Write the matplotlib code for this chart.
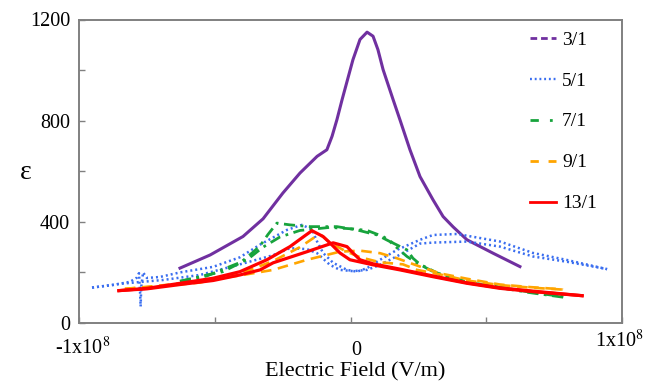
import matplotlib
matplotlib.use("Agg")
import matplotlib.pyplot as plt
from matplotlib.lines import Line2D
import numpy as np

plt.rcParams['font.family'] = ['Liberation Serif', 'DejaVu Serif']
plt.rcParams['mathtext.fontset'] = 'stix'

# Electric field values in units of 1e7 V/m, permittivity values (dimensionless)
e_31 = [-6.28, -5.17, -3.96, -3.22, -2.49, -1.86, -1.23, -0.87, -0.68, -0.50, -0.31, 0.09,
        0.35, 0.61, 0.83, 1.01, 1.20, 1.57, 1.82, 2.19, 2.56, 3.04, 3.41, 3.78, 4.29, 5.25, 6.24]
eps_31 = [217, 269, 342, 412, 514, 593, 659, 685, 738, 804, 883, 1041,
          1121, 1150, 1134, 1081, 1002, 883, 804, 685, 579, 487, 421, 380, 329, 276, 223]

e_51a = [-9.52, -8.75, -8.12, -7.86, -7.79, -7.75, -7.73, -7.71, -7.64, -7.50, -7.02, -6.28,
         -5.06, -4.07, -3.33, -2.34, -1.79, -1.42, -1.23, -1.01, -0.64, -0.13, 0.24, 0.61,
         1.09, 1.71, 2.56, 3.04, 3.92, 5.51, 6.72, 7.98, 9.45]
eps_51a = [140, 150, 163, 180, 197, 120, 65, 140, 200, 178, 182, 200,
           222, 260, 310, 368, 388, 370, 322, 277, 238, 210, 203, 217,
           250, 289, 329, 348, 352, 322, 277, 249, 213]
e_51b = [-9.52, -8.49, -6.91, -5.54, -4.07, -2.85, -2.23, -1.60, -1.23, -0.76, -0.39, 0.09,
         0.61, 1.09, 1.82, 2.56, 3.04, 4.29, 5.51, 6.72, 7.98, 9.45]
eps_51b = [140, 155, 170, 190, 232, 268, 296, 292, 276, 230, 210, 205,
           210, 230, 270, 314, 318, 322, 302, 263, 242, 213]

e_71a = [-6.28, -5.29, -4.70, -4.07, -3.59, -3.33, -3.04, -2.71, -2.23, -1.49, -0.50, 0.24,
         0.98, 1.45, 2.08, 2.45, 3.19, 4.29, 5.03, 6.61, 7.97]
eps_71a = [165, 190, 203, 237, 280, 305, 350, 395, 388, 381, 381, 368,
           348, 322, 263, 237, 195, 160, 150, 122, 102]
e_71b = [-6.28, -5.29, -4.33, -3.81, -3.22, -2.60, -1.86, -0.76, 0.09, 0.61, 1.20, 1.57,
         2.08, 2.30, 2.56, 3.19, 4.29, 5.03, 6.61, 7.97]
eps_71b = [165, 186, 228, 250, 300, 340, 366, 378, 372, 366, 342, 316,
           289, 256, 232, 198, 162, 148, 120, 100]

e_91a = [-8.31, -7.02, -5.54, -4.07, -2.85, -1.60, -0.39, 0.35, 1.09, 1.71, 2.56, 3.30,
         4.29, 5.51, 6.61, 7.83]
eps_91a = [135, 148, 165, 188, 210, 250, 282, 286, 276, 256, 223, 196,
           175, 152, 142, 133]
e_91b = [-8.31, -7.02, -5.54, -4.07, -2.85, -1.86, -1.31, -1.05, -0.76, -0.20, 0.35, 1.09,
         1.93, 2.45, 3.30, 4.29, 5.51, 6.61, 7.83]
eps_91b = [135, 145, 160, 195, 245, 300, 340, 345, 318, 285, 260, 240,
           232, 210, 192, 168, 150, 140, 132]

e_131a = [-8.53, -7.50, -6.28, -5.06, -4.07, -3.08, -2.23, -1.68, -1.42, -1.01, -0.76, -0.39,
          -0.02, 0.83, 1.82, 3.04, 4.29, 5.51, 6.72, 8.53]
eps_131a = [128, 137, 157, 177, 203, 250, 302, 345, 365, 342, 317, 277,
            250, 230, 210, 183, 157, 137, 124, 108]
e_131b = [-8.53, -7.50, -6.28, -5.06, -4.07, -3.33, -2.85, -1.60, -0.64, -0.13, 0.09, 0.35,
          0.83, 1.82, 3.04, 4.29, 5.51, 6.72, 8.53]
eps_131b = [128, 135, 152, 168, 190, 210, 238, 282, 317, 302, 277, 250,
            234, 213, 186, 159, 139, 126, 108]

labels = ['3/1', '5/1', '7/1', '9/1', '13/1']
colors = ['#7030a0', '#3a6ef0', '#17a33c', '#ffa500', '#ff0000']
unit = 1e7

fig = plt.figure(figsize=(6.54, 3.84), dpi=100)
ax = fig.add_axes([79/654, 1-323/384, 543/654, 303.5/384])

def E(v):
    return np.array(v) * unit

ax.plot(E(e_31), eps_31, color=colors[0], lw=2.2, solid_joinstyle='round')
for ee, yy in [(e_51a, eps_51a), (e_51b, eps_51b)]:
    ax.plot(E(ee), yy, color=colors[1], lw=1.8, linestyle=(0, (0.8, 1.2)))
for ee, yy in [(e_71a, eps_71a), (e_71b, eps_71b)]:
    ax.plot(E(ee), yy, color=colors[2], lw=2.0, linestyle=(0, (4, 2, 1, 2)))
for ee, yy in [(e_91a, eps_91a), (e_91b, eps_91b)]:
    ax.plot(E(ee), yy, color=colors[3], lw=1.9, linestyle=(0, (4, 2.5)))
for ee, yy in [(e_131a, eps_131a), (e_131b, eps_131b)]:
    ax.plot(E(ee), yy, color=colors[4], lw=2.3, solid_joinstyle='round')

ax.set_xlim(-1e8, 1e8)
ax.set_ylim(0, 1200)
ax.set_xticks([-1e8, -5e7, 0, 5e7, 1e8])
ax.set_xticklabels([])
ax.set_yticks([0, 200, 400, 600, 800, 1000, 1200])
ax.set_yticklabels(['0', '', '400', '', '800', '', '1200'])
ax.tick_params(direction='in', length=4, width=1, color='#808080', labelsize=14.5, pad=6.5)
ax.tick_params(axis='x', top=False)
ax.tick_params(axis='y', right=False)
for s in ax.spines.values():
    s.set_color('#808080')
    s.set_linewidth(1.4)

# x tick labels
ax.text(0.0074, -0.083, r'-1x10$^8$', transform=ax.transAxes, ha='center', va='center', fontsize=14.5)
ax.text(0.511, -0.09, '0', transform=ax.transAxes, ha='center', va='center', fontsize=14.5)
ax.text(0.9945, -0.058, r'1x10$^8$', transform=ax.transAxes, ha='center', va='center', fontsize=14.5)

ax.set_xlabel('Electric Field (V/m)', fontsize=16)
ax.xaxis.set_label_coords(0.508, -0.161)
ax.xaxis.label.set_verticalalignment('center')
ax.set_ylabel('ε', fontsize=20, rotation=0)
ax.yaxis.set_label_coords(-0.0976, 0.4975)
ax.yaxis.label.set_verticalalignment('center')

handles = [
    Line2D([], [], color=colors[0], lw=2, linestyle=(0, (2.4, 1.4))),
    Line2D([], [], color=colors[1], lw=1.7, linestyle=(0, (0.8, 1.2))),
    Line2D([], [], color=colors[2], lw=2, linestyle=(0, (3, 4, 1, 4))),
    Line2D([], [], color=colors[3], lw=2, linestyle=(0, (3, 3.5))),
    Line2D([], [], color=colors[4], lw=2),
]
leg = fig.legend(handles, labels, loc='upper left', bbox_to_anchor=(530/654, 1-31/384),
                 frameon=False, fontsize=14, handlelength=1.35, handletextpad=0.3,
                 labelspacing=1.2, borderpad=0, borderaxespad=0)

fig.savefig('out.png', dpi=100)
